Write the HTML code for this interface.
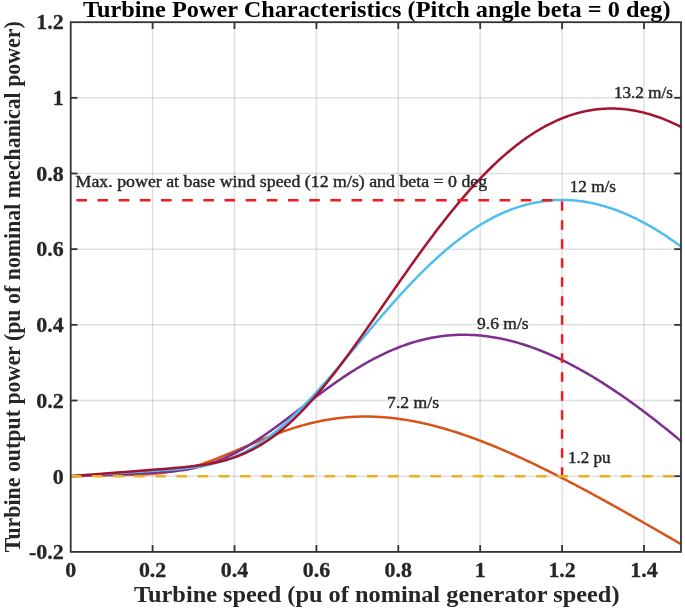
<!DOCTYPE html>
<html><head><meta charset="utf-8"><style>
html,body{margin:0;padding:0;background:#fff;}
body{width:685px;height:610px;overflow:hidden;}
svg{display:block;will-change:transform;filter:blur(0.45px);}
text{font-family:"Liberation Serif",serif;}
</style></head><body>
<svg width="685" height="610" viewBox="0 0 685 610">
<rect width="685" height="610" fill="#fff"/>
<g stroke="#262626" stroke-opacity="0.14" stroke-width="1.5"><line x1="152.60" y1="22.2" x2="152.60" y2="551.9"/><line x1="234.50" y1="22.2" x2="234.50" y2="551.9"/><line x1="316.40" y1="22.2" x2="316.40" y2="551.9"/><line x1="398.30" y1="22.2" x2="398.30" y2="551.9"/><line x1="480.20" y1="22.2" x2="480.20" y2="551.9"/><line x1="562.10" y1="22.2" x2="562.10" y2="551.9"/><line x1="644.00" y1="22.2" x2="644.00" y2="551.9"/><line x1="70.7" y1="476.20" x2="681.0" y2="476.20"/><line x1="70.7" y1="400.52" x2="681.0" y2="400.52"/><line x1="70.7" y1="324.84" x2="681.0" y2="324.84"/><line x1="70.7" y1="249.16" x2="681.0" y2="249.16"/><line x1="70.7" y1="173.48" x2="681.0" y2="173.48"/><line x1="70.7" y1="97.80" x2="681.0" y2="97.80"/></g>
<g stroke="#333" stroke-width="1.8"><line x1="152.60" y1="551.9" x2="152.60" y2="545.1"/><line x1="152.60" y1="22.2" x2="152.60" y2="29.0"/><line x1="234.50" y1="551.9" x2="234.50" y2="545.1"/><line x1="234.50" y1="22.2" x2="234.50" y2="29.0"/><line x1="316.40" y1="551.9" x2="316.40" y2="545.1"/><line x1="316.40" y1="22.2" x2="316.40" y2="29.0"/><line x1="398.30" y1="551.9" x2="398.30" y2="545.1"/><line x1="398.30" y1="22.2" x2="398.30" y2="29.0"/><line x1="480.20" y1="551.9" x2="480.20" y2="545.1"/><line x1="480.20" y1="22.2" x2="480.20" y2="29.0"/><line x1="562.10" y1="551.9" x2="562.10" y2="545.1"/><line x1="562.10" y1="22.2" x2="562.10" y2="29.0"/><line x1="644.00" y1="551.9" x2="644.00" y2="545.1"/><line x1="644.00" y1="22.2" x2="644.00" y2="29.0"/><line x1="70.7" y1="476.20" x2="77.5" y2="476.20"/><line x1="681.0" y1="476.20" x2="674.2" y2="476.20"/><line x1="70.7" y1="400.52" x2="77.5" y2="400.52"/><line x1="681.0" y1="400.52" x2="674.2" y2="400.52"/><line x1="70.7" y1="324.84" x2="77.5" y2="324.84"/><line x1="681.0" y1="324.84" x2="674.2" y2="324.84"/><line x1="70.7" y1="249.16" x2="77.5" y2="249.16"/><line x1="681.0" y1="249.16" x2="674.2" y2="249.16"/><line x1="70.7" y1="173.48" x2="77.5" y2="173.48"/><line x1="681.0" y1="173.48" x2="674.2" y2="173.48"/><line x1="70.7" y1="97.80" x2="77.5" y2="97.80"/><line x1="681.0" y1="97.80" x2="674.2" y2="97.80"/></g>
<polyline points="70.90,476.20 72.43,476.16 73.96,476.12 75.49,476.09 77.02,476.05 78.55,476.02 80.08,475.98 81.61,475.95 83.14,475.91 84.67,475.88 86.20,475.84 87.72,475.80 89.25,475.77 90.78,475.73 92.31,475.70 93.84,475.66 95.37,475.63 96.90,475.59 98.43,475.56 99.96,475.52 101.49,475.49 103.02,475.45 104.54,475.41 106.07,475.38 107.60,475.34 109.13,475.31 110.66,475.27 112.19,475.24 113.72,475.20 115.25,475.17 116.78,475.13 118.31,475.09 119.83,475.06 121.36,475.02 122.89,474.98 124.42,474.95 125.95,474.91 127.48,474.87 129.01,474.83 130.54,474.79 132.07,474.74 133.60,474.70 135.13,474.65 136.65,474.60 138.18,474.55 139.71,474.49 141.24,474.43 142.77,474.36 144.30,474.29 145.83,474.21 147.36,474.13 148.89,474.04 150.42,473.95 151.94,473.84 153.47,473.73 155.00,473.61 156.53,473.48 158.06,473.34 159.59,473.19 161.12,473.02 162.65,472.85 164.18,472.67 165.71,472.47 167.24,472.26 168.76,472.04 170.29,471.81 171.82,471.56 173.35,471.31 174.88,471.03 176.41,470.75 177.94,470.45 179.47,470.13 181.00,469.81 182.53,469.46 184.06,469.11 185.58,468.74 187.11,468.36 188.64,467.96 190.17,467.56 191.70,467.13 193.23,466.70 194.76,466.25 196.29,465.79 197.82,465.32 199.35,464.84 200.87,464.34 202.40,463.83 203.93,463.32 205.46,462.79 206.99,462.25 208.52,461.70 210.05,461.15 211.58,460.58 213.11,460.01 214.64,459.42 216.17,458.83 217.69,458.23 219.22,457.63 220.75,457.02 222.28,456.40 223.81,455.78 225.34,455.15 226.87,454.52 228.40,453.88 229.93,453.24 231.46,452.59 232.99,451.95 234.51,451.30 236.04,450.64 237.57,449.99 239.10,449.34 240.63,448.68 242.16,448.02 243.69,447.37 245.22,446.71 246.75,446.06 248.28,445.40 249.80,444.75 251.33,444.10 252.86,443.45 254.39,442.81 255.92,442.17 257.45,441.53 258.98,440.89 260.51,440.26 262.04,439.63 263.57,439.01 265.10,438.39 266.62,437.77 268.15,437.17 269.68,436.56 271.21,435.97 272.74,435.38 274.27,434.79 275.80,434.22 277.33,433.64 278.86,433.08 280.39,432.52 281.92,431.98 283.44,431.43 284.97,430.90 286.50,430.38 288.03,429.86 289.56,429.35 291.09,428.85 292.62,428.36 294.15,427.88 295.68,427.40 297.21,426.94 298.73,426.48 300.26,426.04 301.79,425.60 303.32,425.17 304.85,424.75 306.38,424.35 307.91,423.95 309.44,423.56 310.97,423.18 312.50,422.82 314.03,422.46 315.55,422.11 317.08,421.77 318.61,421.45 320.14,421.13 321.67,420.82 323.20,420.53 324.73,420.24 326.26,419.97 327.79,419.70 329.32,419.45 330.85,419.21 332.37,418.98 333.90,418.75 335.43,418.54 336.96,418.34 338.49,418.15 340.02,417.97 341.55,417.80 343.08,417.65 344.61,417.50 346.14,417.36 347.66,417.24 349.19,417.12 350.72,417.01 352.25,416.92 353.78,416.84 355.31,416.76 356.84,416.70 358.37,416.64 359.90,416.60 361.43,416.57 362.96,416.55 364.48,416.53 366.01,416.53 367.54,416.54 369.07,416.56 370.60,416.59 372.13,416.63 373.66,416.67 375.19,416.73 376.72,416.80 378.25,416.88 379.78,416.96 381.30,417.06 382.83,417.17 384.36,417.28 385.89,417.41 387.42,417.55 388.95,417.69 390.48,417.84 392.01,418.01 393.54,418.18 395.07,418.36 396.59,418.55 398.12,418.75 399.65,418.96 401.18,419.17 402.71,419.40 404.24,419.63 405.77,419.88 407.30,420.13 408.83,420.39 410.36,420.66 411.89,420.93 413.41,421.22 414.94,421.51 416.47,421.81 418.00,422.12 419.53,422.44 421.06,422.77 422.59,423.10 424.12,423.44 425.65,423.79 427.18,424.15 428.70,424.51 430.23,424.88 431.76,425.26 433.29,425.65 434.82,426.04 436.35,426.44 437.88,426.85 439.41,427.27 440.94,427.69 442.47,428.12 444.00,428.56 445.52,429.00 447.05,429.45 448.58,429.91 450.11,430.37 451.64,430.84 453.17,431.32 454.70,431.80 456.23,432.29 457.76,432.78 459.29,433.28 460.82,433.79 462.34,434.31 463.87,434.82 465.40,435.35 466.93,435.88 468.46,436.42 469.99,436.96 471.52,437.51 473.05,438.07 474.58,438.63 476.11,439.19 477.63,439.76 479.16,440.34 480.69,440.92 482.22,441.51 483.75,442.10 485.28,442.69 486.81,443.30 488.34,443.90 489.87,444.52 491.40,445.13 492.93,445.75 494.45,446.38 495.98,447.01 497.51,447.65 499.04,448.29 500.57,448.93 502.10,449.58 503.63,450.24 505.16,450.89 506.69,451.56 508.22,452.22 509.75,452.89 511.27,453.57 512.80,454.25 514.33,454.93 515.86,455.62 517.39,456.31 518.92,457.01 520.45,457.70 521.98,458.41 523.51,459.11 525.04,459.82 526.56,460.54 528.09,461.25 529.62,461.97 531.15,462.70 532.68,463.43 534.21,464.16 535.74,464.89 537.27,465.63 538.80,466.37 540.33,467.11 541.86,467.86 543.38,468.61 544.91,469.36 546.44,470.12 547.97,470.88 549.50,471.64 551.03,472.41 552.56,473.17 554.09,473.94 555.62,474.72 557.15,475.49 558.68,476.27 560.20,477.05 561.73,477.84 563.26,478.62 564.79,479.41 566.32,480.21 567.85,481.00 569.38,481.80 570.91,482.59 572.44,483.39 573.97,484.20 575.49,485.00 577.02,485.81 578.55,486.62 580.08,487.43 581.61,488.25 583.14,489.06 584.67,489.88 586.20,490.70 587.73,491.52 589.26,492.35 590.79,493.17 592.31,494.00 593.84,494.83 595.37,495.66 596.90,496.49 598.43,497.33 599.96,498.16 601.49,499.00 603.02,499.84 604.55,500.68 606.08,501.52 607.61,502.37 609.13,503.21 610.66,504.06 612.19,504.91 613.72,505.76 615.25,506.61 616.78,507.46 618.31,508.32 619.84,509.17 621.37,510.03 622.90,510.89 624.42,511.74 625.95,512.60 627.48,513.47 629.01,514.33 630.54,515.19 632.07,516.06 633.60,516.92 635.13,517.79 636.66,518.66 638.19,519.52 639.72,520.39 641.24,521.26 642.77,522.14 644.30,523.01 645.83,523.88 647.36,524.75 648.89,525.63 650.42,526.51 651.95,527.38 653.48,528.26 655.01,529.14 656.54,530.01 658.06,530.89 659.59,531.77 661.12,532.65 662.65,533.53 664.18,534.42 665.71,535.30 667.24,536.18 668.77,537.06 670.30,537.95 671.83,538.83 673.35,539.72 674.88,540.60 676.41,541.49 677.94,542.37 679.47,543.26 681.00,544.15" fill="none" stroke="#D95319" stroke-width="2.5" stroke-linejoin="round"/><polyline points="70.90,476.19 72.43,476.13 73.96,476.07 75.49,476.00 77.02,475.94 78.55,475.88 80.08,475.81 81.61,475.75 83.14,475.69 84.67,475.62 86.20,475.56 87.72,475.50 89.25,475.43 90.78,475.37 92.31,475.31 93.84,475.24 95.37,475.18 96.90,475.12 98.43,475.06 99.96,474.99 101.49,474.93 103.02,474.87 104.54,474.80 106.07,474.74 107.60,474.68 109.13,474.61 110.66,474.55 112.19,474.49 113.72,474.42 115.25,474.36 116.78,474.30 118.31,474.23 119.83,474.17 121.36,474.11 122.89,474.05 124.42,473.98 125.95,473.92 127.48,473.86 129.01,473.79 130.54,473.73 132.07,473.66 133.60,473.60 135.13,473.54 136.65,473.47 138.18,473.41 139.71,473.34 141.24,473.28 142.77,473.21 144.30,473.14 145.83,473.07 147.36,473.00 148.89,472.93 150.42,472.85 151.94,472.78 153.47,472.70 155.00,472.62 156.53,472.53 158.06,472.44 159.59,472.35 161.12,472.25 162.65,472.15 164.18,472.04 165.71,471.93 167.24,471.81 168.76,471.68 170.29,471.55 171.82,471.40 173.35,471.25 174.88,471.09 176.41,470.92 177.94,470.74 179.47,470.55 181.00,470.35 182.53,470.14 184.06,469.91 185.58,469.67 187.11,469.42 188.64,469.16 190.17,468.88 191.70,468.59 193.23,468.28 194.76,467.95 196.29,467.62 197.82,467.26 199.35,466.89 200.87,466.50 202.40,466.09 203.93,465.67 205.46,465.23 206.99,464.78 208.52,464.30 210.05,463.81 211.58,463.30 213.11,462.77 214.64,462.22 216.17,461.65 217.69,461.07 219.22,460.47 220.75,459.85 222.28,459.21 223.81,458.55 225.34,457.87 226.87,457.18 228.40,456.47 229.93,455.74 231.46,455.00 232.99,454.23 234.51,453.45 236.04,452.66 237.57,451.84 239.10,451.01 240.63,450.17 242.16,449.30 243.69,448.43 245.22,447.53 246.75,446.63 248.28,445.71 249.80,444.77 251.33,443.82 252.86,442.86 254.39,441.88 255.92,440.89 257.45,439.89 258.98,438.88 260.51,437.86 262.04,436.82 263.57,435.78 265.10,434.72 266.62,433.66 268.15,432.59 269.68,431.50 271.21,430.41 272.74,429.31 274.27,428.21 275.80,427.10 277.33,425.98 278.86,424.85 280.39,423.72 281.92,422.58 283.44,421.44 284.97,420.29 286.50,419.14 288.03,417.99 289.56,416.83 291.09,415.68 292.62,414.51 294.15,413.35 295.68,412.19 297.21,411.02 298.73,409.86 300.26,408.69 301.79,407.52 303.32,406.36 304.85,405.19 306.38,404.03 307.91,402.87 309.44,401.71 310.97,400.55 312.50,399.40 314.03,398.25 315.55,397.10 317.08,395.96 318.61,394.82 320.14,393.68 321.67,392.55 323.20,391.43 324.73,390.31 326.26,389.19 327.79,388.09 329.32,386.99 330.85,385.89 332.37,384.80 333.90,383.72 335.43,382.65 336.96,381.59 338.49,380.53 340.02,379.48 341.55,378.44 343.08,377.41 344.61,376.39 346.14,375.37 347.66,374.37 349.19,373.37 350.72,372.39 352.25,371.42 353.78,370.45 355.31,369.50 356.84,368.55 358.37,367.62 359.90,366.70 361.43,365.79 362.96,364.89 364.48,364.00 366.01,363.12 367.54,362.26 369.07,361.41 370.60,360.57 372.13,359.74 373.66,358.92 375.19,358.12 376.72,357.33 378.25,356.55 379.78,355.78 381.30,355.03 382.83,354.29 384.36,353.56 385.89,352.85 387.42,352.14 388.95,351.46 390.48,350.78 392.01,350.12 393.54,349.47 395.07,348.84 396.59,348.22 398.12,347.61 399.65,347.02 401.18,346.44 402.71,345.87 404.24,345.32 405.77,344.78 407.30,344.26 408.83,343.75 410.36,343.26 411.89,342.77 413.41,342.31 414.94,341.85 416.47,341.41 418.00,340.99 419.53,340.58 421.06,340.18 422.59,339.80 424.12,339.43 425.65,339.07 427.18,338.73 428.70,338.41 430.23,338.09 431.76,337.79 433.29,337.51 434.82,337.24 436.35,336.98 437.88,336.74 439.41,336.52 440.94,336.30 442.47,336.10 444.00,335.92 445.52,335.75 447.05,335.59 448.58,335.44 450.11,335.31 451.64,335.20 453.17,335.10 454.70,335.01 456.23,334.93 457.76,334.87 459.29,334.83 460.82,334.79 462.34,334.77 463.87,334.77 465.40,334.77 466.93,334.79 468.46,334.83 469.99,334.88 471.52,334.94 473.05,335.01 474.58,335.10 476.11,335.20 477.63,335.31 479.16,335.44 480.69,335.58 482.22,335.73 483.75,335.90 485.28,336.07 486.81,336.26 488.34,336.47 489.87,336.68 491.40,336.91 492.93,337.16 494.45,337.41 495.98,337.68 497.51,337.95 499.04,338.25 500.57,338.55 502.10,338.86 503.63,339.19 505.16,339.53 506.69,339.88 508.22,340.25 509.75,340.62 511.27,341.01 512.80,341.41 514.33,341.82 515.86,342.24 517.39,342.67 518.92,343.12 520.45,343.58 521.98,344.04 523.51,344.52 525.04,345.01 526.56,345.51 528.09,346.02 529.62,346.55 531.15,347.08 532.68,347.63 534.21,348.18 535.74,348.75 537.27,349.32 538.80,349.91 540.33,350.51 541.86,351.12 543.38,351.73 544.91,352.36 546.44,353.00 547.97,353.65 549.50,354.31 551.03,354.98 552.56,355.66 554.09,356.35 555.62,357.04 557.15,357.75 558.68,358.47 560.20,359.20 561.73,359.93 563.26,360.68 564.79,361.43 566.32,362.20 567.85,362.97 569.38,363.76 570.91,364.55 572.44,365.35 573.97,366.16 575.49,366.98 577.02,367.80 578.55,368.64 580.08,369.49 581.61,370.34 583.14,371.20 584.67,372.07 586.20,372.95 587.73,373.84 589.26,374.73 590.79,375.64 592.31,376.55 593.84,377.47 595.37,378.39 596.90,379.33 598.43,380.27 599.96,381.22 601.49,382.18 603.02,383.15 604.55,384.12 606.08,385.10 607.61,386.09 609.13,387.09 610.66,388.09 612.19,389.10 613.72,390.12 615.25,391.15 616.78,392.18 618.31,393.22 619.84,394.26 621.37,395.32 622.90,396.38 624.42,397.44 625.95,398.52 627.48,399.60 629.01,400.68 630.54,401.78 632.07,402.88 633.60,403.98 635.13,405.10 636.66,406.21 638.19,407.34 639.72,408.47 641.24,409.61 642.77,410.75 644.30,411.90 645.83,413.06 647.36,414.22 648.89,415.38 650.42,416.56 651.95,417.73 653.48,418.92 655.01,420.11 656.54,421.30 658.06,422.50 659.59,423.71 661.12,424.92 662.65,426.14 664.18,427.36 665.71,428.59 667.24,429.82 668.77,431.06 670.30,432.30 671.83,433.55 673.35,434.80 674.88,436.06 676.41,437.32 677.94,438.59 679.47,439.86 681.00,441.14" fill="none" stroke="#7E2F8E" stroke-width="2.5" stroke-linejoin="round"/><polyline points="70.90,476.19 72.43,476.09 73.96,475.99 75.49,475.89 77.02,475.79 78.55,475.69 80.08,475.60 81.61,475.50 83.14,475.40 84.67,475.30 86.20,475.20 87.72,475.10 89.25,475.00 90.78,474.90 92.31,474.81 93.84,474.71 95.37,474.61 96.90,474.51 98.43,474.41 99.96,474.31 101.49,474.21 103.02,474.12 104.54,474.02 106.07,473.92 107.60,473.82 109.13,473.72 110.66,473.62 112.19,473.52 113.72,473.43 115.25,473.33 116.78,473.23 118.31,473.13 119.83,473.03 121.36,472.93 122.89,472.83 124.42,472.73 125.95,472.64 127.48,472.54 129.01,472.44 130.54,472.34 132.07,472.24 133.60,472.14 135.13,472.04 136.65,471.95 138.18,471.85 139.71,471.75 141.24,471.65 142.77,471.55 144.30,471.45 145.83,471.35 147.36,471.25 148.89,471.15 150.42,471.05 151.94,470.95 153.47,470.85 155.00,470.75 156.53,470.65 158.06,470.54 159.59,470.44 161.12,470.34 162.65,470.23 164.18,470.12 165.71,470.01 167.24,469.90 168.76,469.79 170.29,469.67 171.82,469.55 173.35,469.43 174.88,469.30 176.41,469.17 177.94,469.04 179.47,468.90 181.00,468.76 182.53,468.61 184.06,468.45 185.58,468.29 187.11,468.13 188.64,467.95 190.17,467.77 191.70,467.58 193.23,467.38 194.76,467.17 196.29,466.95 197.82,466.72 199.35,466.48 200.87,466.23 202.40,465.97 203.93,465.69 205.46,465.41 206.99,465.10 208.52,464.79 210.05,464.46 211.58,464.11 213.11,463.75 214.64,463.37 216.17,462.98 217.69,462.57 219.22,462.14 220.75,461.69 222.28,461.23 223.81,460.74 225.34,460.24 226.87,459.72 228.40,459.18 229.93,458.62 231.46,458.03 232.99,457.43 234.51,456.81 236.04,456.16 237.57,455.49 239.10,454.80 240.63,454.09 242.16,453.36 243.69,452.60 245.22,451.82 246.75,451.02 248.28,450.20 249.80,449.35 251.33,448.48 252.86,447.59 254.39,446.68 255.92,445.74 257.45,444.78 258.98,443.80 260.51,442.79 262.04,441.76 263.57,440.71 265.10,439.64 266.62,438.54 268.15,437.42 269.68,436.28 271.21,435.12 272.74,433.94 274.27,432.73 275.80,431.50 277.33,430.26 278.86,428.99 280.39,427.70 281.92,426.39 283.44,425.06 284.97,423.71 286.50,422.35 288.03,420.96 289.56,419.55 291.09,418.13 292.62,416.69 294.15,415.23 295.68,413.75 297.21,412.26 298.73,410.75 300.26,409.22 301.79,407.68 303.32,406.13 304.85,404.55 306.38,402.97 307.91,401.37 309.44,399.75 310.97,398.13 312.50,396.49 314.03,394.83 315.55,393.17 317.08,391.49 318.61,389.81 320.14,388.11 321.67,386.40 323.20,384.68 324.73,382.96 326.26,381.22 327.79,379.48 329.32,377.73 330.85,375.97 332.37,374.20 333.90,372.43 335.43,370.65 336.96,368.86 338.49,367.07 340.02,365.27 341.55,363.47 343.08,361.67 344.61,359.86 346.14,358.05 347.66,356.24 349.19,354.42 350.72,352.60 352.25,350.78 353.78,348.96 355.31,347.14 356.84,345.31 358.37,343.49 359.90,341.67 361.43,339.85 362.96,338.03 364.48,336.21 366.01,334.39 367.54,332.58 369.07,330.77 370.60,328.96 372.13,327.16 373.66,325.36 375.19,323.56 376.72,321.77 378.25,319.98 379.78,318.20 381.30,316.42 382.83,314.65 384.36,312.88 385.89,311.13 387.42,309.37 388.95,307.63 390.48,305.89 392.01,304.16 393.54,302.44 395.07,300.73 396.59,299.02 398.12,297.33 399.65,295.64 401.18,293.96 402.71,292.29 404.24,290.64 405.77,288.99 407.30,287.35 408.83,285.72 410.36,284.11 411.89,282.50 413.41,280.91 414.94,279.32 416.47,277.75 418.00,276.19 419.53,274.65 421.06,273.11 422.59,271.59 424.12,270.08 425.65,268.59 427.18,267.10 428.70,265.64 430.23,264.18 431.76,262.74 433.29,261.31 434.82,259.89 436.35,258.49 437.88,257.11 439.41,255.74 440.94,254.38 442.47,253.04 444.00,251.71 445.52,250.40 447.05,249.10 448.58,247.82 450.11,246.55 451.64,245.30 453.17,244.07 454.70,242.85 456.23,241.64 457.76,240.46 459.29,239.28 460.82,238.13 462.34,236.99 463.87,235.87 465.40,234.76 466.93,233.67 468.46,232.60 469.99,231.54 471.52,230.50 473.05,229.48 474.58,228.47 476.11,227.48 477.63,226.51 479.16,225.55 480.69,224.62 482.22,223.70 483.75,222.79 485.28,221.91 486.81,221.04 488.34,220.18 489.87,219.35 491.40,218.53 492.93,217.73 494.45,216.95 495.98,216.19 497.51,215.44 499.04,214.71 500.57,214.00 502.10,213.31 503.63,212.63 505.16,211.97 506.69,211.33 508.22,210.71 509.75,210.10 511.27,209.51 512.80,208.94 514.33,208.39 515.86,207.86 517.39,207.34 518.92,206.84 520.45,206.36 521.98,205.89 523.51,205.45 525.04,205.02 526.56,204.61 528.09,204.21 529.62,203.84 531.15,203.48 532.68,203.14 534.21,202.81 535.74,202.51 537.27,202.22 538.80,201.95 540.33,201.69 541.86,201.46 543.38,201.24 544.91,201.04 546.44,200.86 547.97,200.69 549.50,200.54 551.03,200.41 552.56,200.29 554.09,200.19 555.62,200.11 557.15,200.05 558.68,200.00 560.20,199.97 561.73,199.96 563.26,199.97 564.79,199.99 566.32,200.03 567.85,200.08 569.38,200.15 570.91,200.24 572.44,200.34 573.97,200.47 575.49,200.60 577.02,200.76 578.55,200.93 580.08,201.12 581.61,201.32 583.14,201.54 584.67,201.77 586.20,202.03 587.73,202.29 589.26,202.58 590.79,202.88 592.31,203.19 593.84,203.53 595.37,203.87 596.90,204.24 598.43,204.62 599.96,205.01 601.49,205.42 603.02,205.85 604.55,206.29 606.08,206.74 607.61,207.21 609.13,207.70 610.66,208.20 612.19,208.72 613.72,209.25 615.25,209.80 616.78,210.36 618.31,210.94 619.84,211.53 621.37,212.13 622.90,212.76 624.42,213.39 625.95,214.04 627.48,214.71 629.01,215.38 630.54,216.08 632.07,216.78 633.60,217.51 635.13,218.24 636.66,218.99 638.19,219.75 639.72,220.53 641.24,221.32 642.77,222.13 644.30,222.94 645.83,223.78 647.36,224.62 648.89,225.48 650.42,226.35 651.95,227.24 653.48,228.14 655.01,229.05 656.54,229.98 658.06,230.91 659.59,231.86 661.12,232.83 662.65,233.81 664.18,234.80 665.71,235.80 667.24,236.81 668.77,237.84 670.30,238.88 671.83,239.93 673.35,241.00 674.88,242.07 676.41,243.16 677.94,244.26 679.47,245.38 681.00,246.50" fill="none" stroke="#4DBEEE" stroke-width="2.5" stroke-linejoin="round"/><polyline points="70.90,476.18 72.43,476.06 73.96,475.95 75.49,475.83 77.02,475.71 78.55,475.59 80.08,475.47 81.61,475.35 83.14,475.23 84.67,475.11 86.20,474.99 87.72,474.87 89.25,474.75 90.78,474.63 92.31,474.51 93.84,474.39 95.37,474.27 96.90,474.16 98.43,474.04 99.96,473.92 101.49,473.80 103.02,473.68 104.54,473.56 106.07,473.44 107.60,473.32 109.13,473.20 110.66,473.08 112.19,472.96 113.72,472.84 115.25,472.72 116.78,472.60 118.31,472.48 119.83,472.37 121.36,472.25 122.89,472.13 124.42,472.01 125.95,471.89 127.48,471.77 129.01,471.65 130.54,471.53 132.07,471.41 133.60,471.29 135.13,471.17 136.65,471.05 138.18,470.93 139.71,470.81 141.24,470.69 142.77,470.57 144.30,470.46 145.83,470.34 147.36,470.22 148.89,470.10 150.42,469.98 151.94,469.86 153.47,469.74 155.00,469.62 156.53,469.50 158.06,469.37 159.59,469.25 161.12,469.13 162.65,469.01 164.18,468.89 165.71,468.76 167.24,468.64 168.76,468.51 170.29,468.38 171.82,468.25 173.35,468.12 174.88,467.99 176.41,467.86 177.94,467.72 179.47,467.58 181.00,467.44 182.53,467.29 184.06,467.14 185.58,466.99 187.11,466.83 188.64,466.67 190.17,466.50 191.70,466.33 193.23,466.15 194.76,465.97 196.29,465.78 197.82,465.58 199.35,465.37 200.87,465.16 202.40,464.94 203.93,464.70 205.46,464.46 206.99,464.21 208.52,463.95 210.05,463.67 211.58,463.39 213.11,463.09 214.64,462.78 216.17,462.46 217.69,462.12 219.22,461.77 220.75,461.40 222.28,461.01 223.81,460.62 225.34,460.20 226.87,459.77 228.40,459.32 229.93,458.85 231.46,458.36 232.99,457.86 234.51,457.33 236.04,456.79 237.57,456.22 239.10,455.64 240.63,455.03 242.16,454.40 243.69,453.75 245.22,453.08 246.75,452.38 248.28,451.67 249.80,450.93 251.33,450.16 252.86,449.38 254.39,448.57 255.92,447.73 257.45,446.87 258.98,445.99 260.51,445.08 262.04,444.15 263.57,443.19 265.10,442.21 266.62,441.20 268.15,440.17 269.68,439.11 271.21,438.03 272.74,436.92 274.27,435.79 275.80,434.63 277.33,433.45 278.86,432.24 280.39,431.01 281.92,429.75 283.44,428.46 284.97,427.16 286.50,425.82 288.03,424.47 289.56,423.09 291.09,421.68 292.62,420.25 294.15,418.80 295.68,417.33 297.21,415.83 298.73,414.31 300.26,412.76 301.79,411.19 303.32,409.61 304.85,407.99 306.38,406.36 307.91,404.71 309.44,403.03 310.97,401.34 312.50,399.62 314.03,397.89 315.55,396.13 317.08,394.36 318.61,392.57 320.14,390.76 321.67,388.93 323.20,387.08 324.73,385.22 326.26,383.33 327.79,381.44 329.32,379.52 330.85,377.59 332.37,375.65 333.90,373.69 335.43,371.72 336.96,369.73 338.49,367.73 340.02,365.71 341.55,363.69 343.08,361.65 344.61,359.60 346.14,357.53 347.66,355.46 349.19,353.38 350.72,351.28 352.25,349.18 353.78,347.07 355.31,344.95 356.84,342.82 358.37,340.68 359.90,338.53 361.43,336.38 362.96,334.22 364.48,332.06 366.01,329.89 367.54,327.72 369.07,325.54 370.60,323.35 372.13,321.16 373.66,318.97 375.19,316.78 376.72,314.58 378.25,312.38 379.78,310.18 381.30,307.97 382.83,305.77 384.36,303.56 385.89,301.36 387.42,299.15 388.95,296.95 390.48,294.75 392.01,292.54 393.54,290.34 395.07,288.15 396.59,285.95 398.12,283.76 399.65,281.57 401.18,279.38 402.71,277.20 404.24,275.02 405.77,272.85 407.30,270.68 408.83,268.52 410.36,266.36 411.89,264.21 413.41,262.06 414.94,259.92 416.47,257.79 418.00,255.67 419.53,253.55 421.06,251.44 422.59,249.34 424.12,247.25 425.65,245.16 427.18,243.09 428.70,241.02 430.23,238.97 431.76,236.92 433.29,234.88 434.82,232.86 436.35,230.84 437.88,228.84 439.41,226.85 440.94,224.87 442.47,222.90 444.00,220.94 445.52,218.99 447.05,217.06 448.58,215.14 450.11,213.23 451.64,211.34 453.17,209.46 454.70,207.59 456.23,205.73 457.76,203.89 459.29,202.07 460.82,200.25 462.34,198.46 463.87,196.67 465.40,194.90 466.93,193.15 468.46,191.41 469.99,189.69 471.52,187.98 473.05,186.29 474.58,184.61 476.11,182.95 477.63,181.31 479.16,179.68 480.69,178.07 482.22,176.47 483.75,174.89 485.28,173.33 486.81,171.78 488.34,170.26 489.87,168.74 491.40,167.25 492.93,165.77 494.45,164.31 495.98,162.87 497.51,161.45 499.04,160.04 500.57,158.65 502.10,157.28 503.63,155.93 505.16,154.60 506.69,153.28 508.22,151.98 509.75,150.70 511.27,149.44 512.80,148.20 514.33,146.97 515.86,145.77 517.39,144.58 518.92,143.41 520.45,142.26 521.98,141.13 523.51,140.02 525.04,138.93 526.56,137.85 528.09,136.80 529.62,135.76 531.15,134.75 532.68,133.75 534.21,132.77 535.74,131.81 537.27,130.87 538.80,129.95 540.33,129.05 541.86,128.17 543.38,127.31 544.91,126.47 546.44,125.64 547.97,124.84 549.50,124.05 551.03,123.29 552.56,122.54 554.09,121.82 555.62,121.11 557.15,120.42 558.68,119.75 560.20,119.11 561.73,118.48 563.26,117.87 564.79,117.28 566.32,116.71 567.85,116.15 569.38,115.62 570.91,115.11 572.44,114.62 573.97,114.14 575.49,113.69 577.02,113.25 578.55,112.84 580.08,112.44 581.61,112.07 583.14,111.71 584.67,111.37 586.20,111.05 587.73,110.75 589.26,110.47 590.79,110.21 592.31,109.96 593.84,109.74 595.37,109.54 596.90,109.35 598.43,109.18 599.96,109.04 601.49,108.91 603.02,108.80 604.55,108.71 606.08,108.63 607.61,108.58 609.13,108.54 610.66,108.53 612.19,108.53 613.72,108.55 615.25,108.59 616.78,108.65 618.31,108.72 619.84,108.82 621.37,108.93 622.90,109.06 624.42,109.21 625.95,109.38 627.48,109.56 629.01,109.77 630.54,109.99 632.07,110.23 633.60,110.49 635.13,110.76 636.66,111.05 638.19,111.37 639.72,111.69 641.24,112.04 642.77,112.40 644.30,112.78 645.83,113.18 647.36,113.60 648.89,114.03 650.42,114.48 651.95,114.95 653.48,115.44 655.01,115.94 656.54,116.46 658.06,116.99 659.59,117.54 661.12,118.11 662.65,118.70 664.18,119.30 665.71,119.92 667.24,120.56 668.77,121.21 670.30,121.88 671.83,122.57 673.35,123.27 674.88,123.99 676.41,124.72 677.94,125.47 679.47,126.24 681.00,127.02" fill="none" stroke="#A2142F" stroke-width="2.5" stroke-linejoin="round"/>
<line x1="70.70" y1="200.2" x2="562.10" y2="200.2" stroke="#f21820" stroke-width="2.5" stroke-dasharray="10.58 10.58" stroke-dashoffset="15.46"/>
<line x1="562.10" y1="201.2" x2="562.10" y2="476.20" stroke="#f21820" stroke-width="2.5" stroke-dasharray="9.5 9.5"/>
<line x1="70.7" y1="476.20" x2="681.0" y2="476.20" stroke="#EDB120" stroke-width="2.5" stroke-dasharray="10.58 10.58"/>
<rect x="70.7" y="22.2" width="610.30" height="529.70" fill="none" stroke="#333" stroke-width="1.8"/>
<g font-size="20.5" font-weight="bold" fill="#262626" stroke="#262626" stroke-width="0.3"><text transform="translate(70.70,576.8) scale(1.07,1)" text-anchor="middle">0</text><text transform="translate(152.60,576.8) scale(1.07,1)" text-anchor="middle">0.2</text><text transform="translate(234.50,576.8) scale(1.07,1)" text-anchor="middle">0.4</text><text transform="translate(316.40,576.8) scale(1.07,1)" text-anchor="middle">0.6</text><text transform="translate(398.30,576.8) scale(1.07,1)" text-anchor="middle">0.8</text><text transform="translate(480.20,576.8) scale(1.07,1)" text-anchor="middle">1</text><text transform="translate(562.10,576.8) scale(1.07,1)" text-anchor="middle">1.2</text><text transform="translate(644.00,576.8) scale(1.07,1)" text-anchor="middle">1.4</text><text transform="translate(63.6,559.18) scale(1.07,1)" text-anchor="end">-0.2</text><text transform="translate(63.6,483.50) scale(1.07,1)" text-anchor="end">0</text><text transform="translate(63.6,407.82) scale(1.07,1)" text-anchor="end">0.2</text><text transform="translate(63.6,332.14) scale(1.07,1)" text-anchor="end">0.4</text><text transform="translate(63.6,256.46) scale(1.07,1)" text-anchor="end">0.6</text><text transform="translate(63.6,180.78) scale(1.07,1)" text-anchor="end">0.8</text><text transform="translate(63.6,105.10) scale(1.07,1)" text-anchor="end">1</text><text transform="translate(63.6,29.42) scale(1.07,1)" text-anchor="end">1.2</text></g>
<g font-size="16.6" fill="#262626" stroke="#262626" stroke-width="0.4">
<text x="75.6" y="187.1" textLength="411.6" lengthAdjust="spacingAndGlyphs">Max. power at base wind speed (12 m/s) and beta = 0 deg</text>
<text x="614" y="97.7" textLength="58.8" lengthAdjust="spacingAndGlyphs">13.2 m/s</text>
<text x="569.7" y="192.0" textLength="46.3" lengthAdjust="spacingAndGlyphs">12 m/s</text>
<text x="477.1" y="328.8" textLength="51.5" lengthAdjust="spacingAndGlyphs">9.6 m/s</text>
<text x="387.1" y="408.4" textLength="52" lengthAdjust="spacingAndGlyphs">7.2 m/s</text>
<text x="567.9" y="463.2" textLength="42.7" lengthAdjust="spacingAndGlyphs">1.2 pu</text>
</g>
<text x="83" y="17.3" font-size="22.6" font-weight="bold" fill="#000" textLength="587.5" lengthAdjust="spacingAndGlyphs">Turbine Power Characteristics (Pitch angle beta = 0 deg)</text>
<text x="134" y="601.8" font-size="22.6" font-weight="bold" fill="#262626" textLength="485.5" lengthAdjust="spacingAndGlyphs">Turbine speed (pu of nominal generator speed)</text>
<text transform="translate(20.0,552.2) scale(1.07,1) rotate(-90)" font-size="22" font-weight="bold" fill="#262626" textLength="531" lengthAdjust="spacingAndGlyphs">Turbine output power (pu of nominal mechanical power)</text>
</svg>
</body></html>
